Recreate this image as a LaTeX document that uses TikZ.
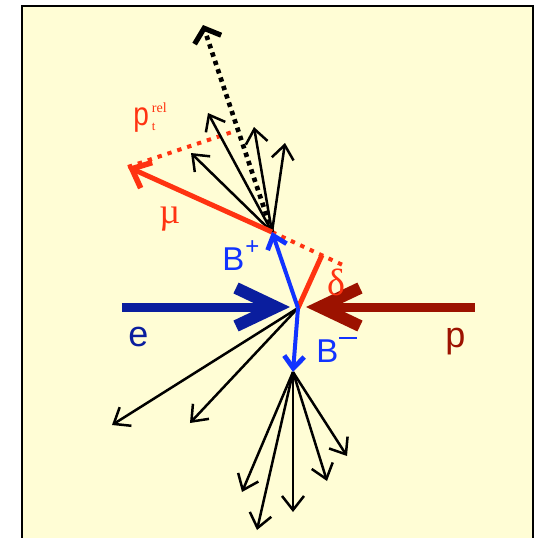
\documentclass[tikz,border=0pt]{standalone}
\usepackage{fontspec}
\setmainfont{Liberation Serif}
\setsansfont{Liberation Sans}
\usetikzlibrary{arrows.meta}
\definecolor{bg}{HTML}{FFFDD5}
\definecolor{mured}{HTML}{FF3311}
\definecolor{bblue}{HTML}{1133FF}
\definecolor{ebeam}{HTML}{0A1E9E}
\definecolor{pbeam}{HTML}{9C1200}
\begin{document}
\begin{tikzpicture}[x=0.5pt,y=-0.5pt,
  trk/.style={draw=black,line width=1.25pt,-{Straight Barb[length=7pt,width=11pt]}},
  jetax/.style={draw=black,line width=2.3pt,dash pattern=on 2.2pt off 2.2pt,-{Straight Barb[length=6pt,width=14pt,line width=2.6pt]}},
  beam/.style={line width=4.5pt,-{Straight Barb[length=20pt,width=19pt,line width=6pt]}},
  bmes/.style={draw=bblue,line width=2pt,-{Straight Barb[length=6pt,width=10pt,line width=2.4pt]}},
  redsolid/.style={draw=mured,line width=2.5pt},
  reddot/.style={draw=mured,line width=2pt,dash pattern=on 2.2pt off 3pt},
  lab/.style={inner sep=0pt,anchor=base west}]
\useasboundingbox (0,0) rectangle (537,538);
\begin{scope}
\clip (0,0) rectangle (537,538);
\draw[line width=1.25pt,fill=bg] (22,6) rectangle (533,560);
\end{scope}
% points
\coordinate (IP) at (298,308);
\coordinate (V) at (272,232);
\coordinate (Bm) at (293,372);
\coordinate (mu) at (128,167);
\coordinate (ptf) at (238,130);
\coordinate (jet) at (203,25);
\coordinate (dfoot) at (322,255);
\coordinate (dext) at (347,267);
\coordinate (eS) at (122,307);
\coordinate (eT) at (290,307);
\coordinate (pS) at (475,307);
\coordinate (pT) at (306,307);
% tracks from B+ vertex
\coordinate (a1) at (191,153);
\coordinate (a2) at (208,113);
\coordinate (a3) at (254,127);
\coordinate (a4) at (285,143);
% tracks from IP
\coordinate (c1) at (112,425);
\coordinate (c2) at (190,423);
% tracks from B- vertex
\coordinate (b1) at (242,492);
\coordinate (b2) at (257,530);
\coordinate (b3) at (293,512);
\coordinate (b4) at (327,481);
\coordinate (b5) at (347,456);
% red construction lines
\draw[reddot] (mu) -- (ptf);
\draw[reddot] (V) -- (dext);
\draw[redsolid] (IP) -- (dfoot);
% jet axis
\draw[jetax] (V) -- (jet);
% black tracks
\foreach \t in {a1,a2,a3,a4} \draw[trk] (V) -- (\t);
\foreach \t in {c1,c2} \draw[trk] (IP) -- (\t);
\foreach \t in {b1,b2,b3,b4,b5} \draw[trk] (Bm) -- (\t);
% muon
\draw[redsolid,-{Straight Barb[length=8pt,width=14pt,line width=2.8pt]}] (V) -- (mu);
% B mesons
\draw[bmes] (IP) -- (V);
\draw[bmes] (IP) -- (Bm);
% beams
\draw[beam,draw=ebeam] (eS) -- (eT);
\draw[beam,draw=pbeam] (pS) -- (pT);
% labels
\node[lab,text=ebeam,font=\sffamily\fontsize{18}{18}\selectfont] (le) at (128,346) {e};
\node[lab,text=pbeam,font=\sffamily\fontsize{18}{18}\selectfont] (lp) at (445,347) {p};
\node[lab,text=bblue,font=\sffamily\fontsize{16.5}{16.5}\selectfont] (lbp) at (222,270) {B\kern0.5pt\raisebox{8pt}{\fontsize{12}{12}\selectfont +}};
\node[lab,text=bblue,font=\sffamily\fontsize{16.5}{16.5}\selectfont] (lbm) at (316,362) {B\kern0.5pt\raisebox{11.5pt}{\rule{9pt}{1.2pt}}};
\node[lab,text=mured,font=\fontsize{18}{18}\selectfont] (lmu) at (159,223) {\textmu};
\node[lab,text=mured,font=\fontsize{19}{19}\selectfont] (ldel) at (327,295) {δ};
\node[lab,text=mured,font=\sffamily\fontsize{16.5}{16.5}\selectfont] (lpt) at (133,125) {\scalebox{0.85}[1]{p}\kern1.5pt\rlap{\raisebox{6.5pt}{\rmfamily\fontsize{7}{7}\selectfont rel}}\raisebox{-2.8pt}{\rmfamily\fontsize{6.5}{6.5}\selectfont t}};
\end{tikzpicture}
\end{document}
